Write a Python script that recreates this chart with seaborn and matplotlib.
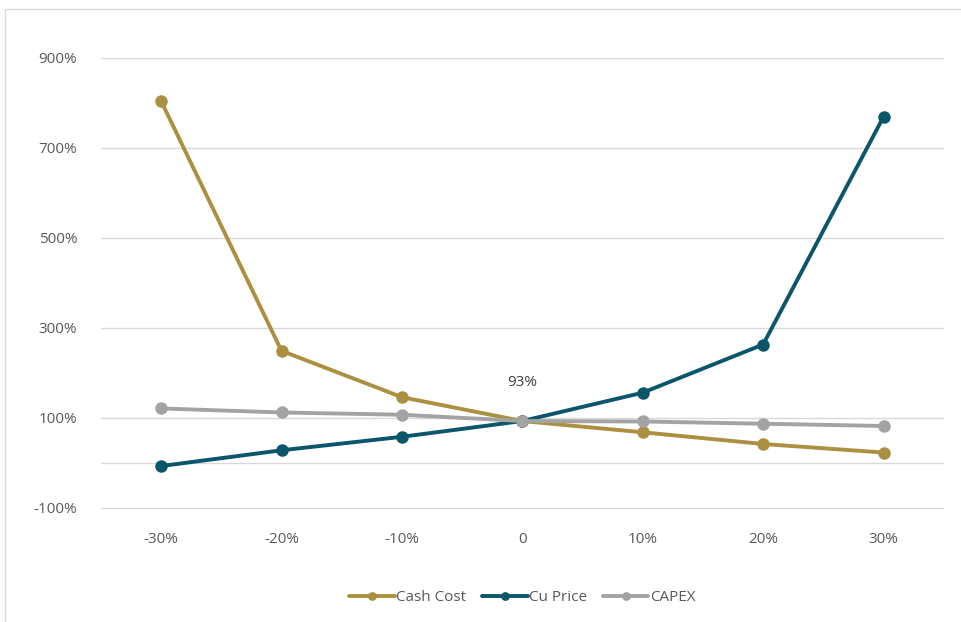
import pandas as pd
import numpy as np
import seaborn as sns
import matplotlib.pyplot as plt
from matplotlib.patches import Rectangle

# sensitivity steps and results (in %)
steps = ["-30%", "-20%", "-10%", "0", "10%", "20%", "30%"]
cashCost = [804, 249, 146, 93, 68, 42, 23]
cuPrice = [-7, 28, 58, 93, 156, 263, 769]
capex = [121, 112, 107, 93, 92, 87, 82]
series = ["Cash Cost", "Cu Price", "CAPEX"]
colors = ["#AB9042", "#0B566B", "#A3A3A3"]
yticks = [-100, 100, 300, 500, 700, 900]

df = pd.DataFrame({
    "Step": steps * 3,
    "Value": cashCost + cuPrice + capex,
    "Series": [series[0]] * 7 + [series[1]] * 7 + [series[2]] * 7,
})
df["pos"] = df["Step"].map({s: i for i, s in enumerate(steps)})

sns.set_style("white")
plt.rcParams['font.family'] = ['Open Sans', 'DejaVu Sans']

fig = plt.figure(figsize=(9.61, 6.22), dpi=100)
ax = fig.add_axes([0.105, 0.182, 0.877, 0.725])

sns.lineplot(data=df, x="pos", y="Value", hue="Series", hue_order=series,
             palette=colors, marker="o", markersize=9, markeredgewidth=0,
             linewidth=2.8, ax=ax, legend=True, zorder=3)

ax.set_xlim(-0.5, 6.5)
ax.set_ylim(-102, 900)
ax.set_yticks(yticks)
ax.set_yticklabels([f"{v}%" for v in yticks])
ax.set_xticks(range(len(steps)))
ax.set_xticklabels(steps)
ax.tick_params(axis="both", length=0, labelsize=11, colors="#595959")
ax.tick_params(axis="x", pad=17)
ax.tick_params(axis="y", pad=17)
ax.set_xlabel("")
ax.set_ylabel("")
for s in ax.spines.values():
    s.set_visible(False)
ax.grid(axis="y", color="#D9D9D9", linewidth=1)
ax.axhline(0, color="#D9D9D9", linewidth=1, zorder=1)

ax.text(3, 162, "93%", ha="center", va="bottom", fontsize=11, color="#404040")

leg = ax.legend(loc="upper center", bbox_to_anchor=(0.5, -0.15), ncol=3,
                frameon=False, fontsize=11, handlelength=3.0,
                columnspacing=1.0, handletextpad=0.1, markerscale=0.7)
for t in leg.get_texts():
    t.set_color("#595959")

fig.patches.append(Rectangle((0.005, -0.01), 1.2, 0.995, transform=fig.transFigure,
                             fill=False, edgecolor="#D9D9D9", linewidth=1))

fig.savefig("out.png", dpi=100)
